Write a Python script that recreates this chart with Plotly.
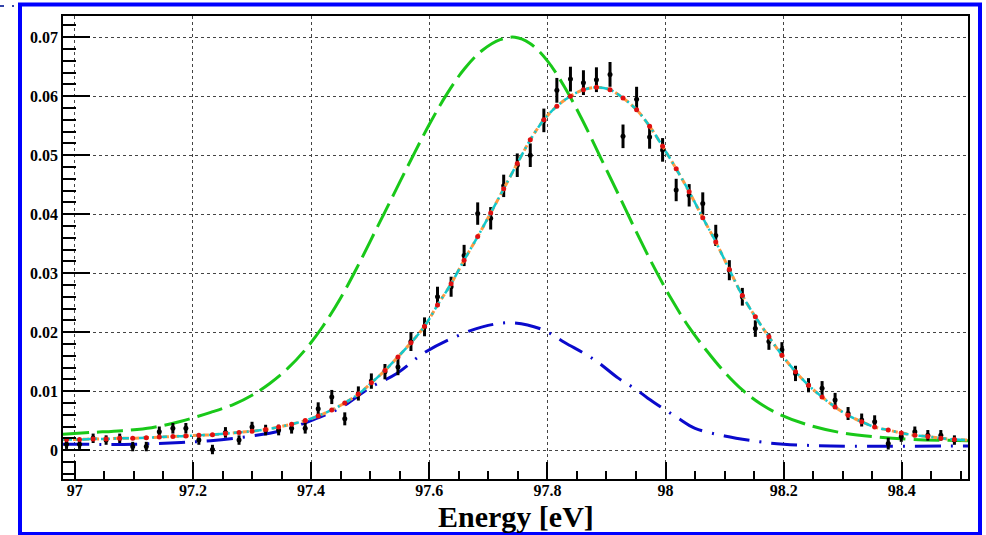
import plotly.graph_objects as go

# Binned spectrum: bin centres [eV], normalised counts and their errors
energy = [
    96.986, 97.008, 97.031, 97.053, 97.076, 97.098, 97.121, 97.143, 97.166, 97.188,
    97.210, 97.233, 97.255, 97.278, 97.300, 97.323, 97.345, 97.367, 97.390, 97.412,
    97.435, 97.457, 97.480, 97.502, 97.525, 97.547, 97.569, 97.592, 97.614, 97.637,
    97.659, 97.682, 97.704, 97.726, 97.749, 97.771, 97.794, 97.816, 97.839, 97.861,
    97.883, 97.906, 97.928, 97.951, 97.973, 97.995, 98.018, 98.040, 98.063, 98.085,
    98.108, 98.130, 98.152, 98.175, 98.197, 98.220, 98.242, 98.265, 98.287, 98.309,
    98.332, 98.354, 98.377, 98.399, 98.422, 98.444, 98.466, 98.489,
]
counts = [
    0.0010, 0.0010, 0.0020, 0.0017, 0.0020, 0.0006, 0.0006, 0.0031, 0.0037, 0.0037,
    0.0017, 0.0001, 0.0030, 0.0017, 0.0039, 0.0034, 0.0034, 0.0037, 0.0037, 0.0070,
    0.0090, 0.0053, 0.0096, 0.0117, 0.0133, 0.0141, 0.0184, 0.0209, 0.0260, 0.0277,
    0.0330, 0.0401, 0.0393, 0.0448, 0.0483, 0.0500, 0.0559, 0.0610, 0.0629, 0.0623,
    0.0628, 0.0637, 0.0532, 0.0595, 0.0531, 0.0509, 0.0441, 0.0432, 0.0418, 0.0364,
    0.0305, 0.0260, 0.0206, 0.0184, 0.0170, 0.0130, 0.0110, 0.0105, 0.0085, 0.0062,
    0.0051, 0.0048, 0.0011, 0.0023, 0.0031, 0.0025, 0.0025, 0.0017,
]
errors = [
    0.0008, 0.0008, 0.0008, 0.0008, 0.0008, 0.0008, 0.0008, 0.0009, 0.0009, 0.0009,
    0.0008, 0.0008, 0.0009, 0.0008, 0.0009, 0.0009, 0.0009, 0.0009, 0.0009, 0.0011,
    0.0012, 0.0011, 0.0012, 0.0013, 0.0013, 0.0014, 0.0016, 0.0016, 0.0017, 0.0017,
    0.0018, 0.0019, 0.0019, 0.0019, 0.0020, 0.0020, 0.0020, 0.0021, 0.0021, 0.0021,
    0.0021, 0.0021, 0.0020, 0.0021, 0.0020, 0.0020, 0.0019, 0.0019, 0.0019, 0.0018,
    0.0017, 0.0015, 0.0014, 0.0014, 0.0013, 0.0013, 0.0012, 0.0012, 0.0012, 0.0011,
    0.0011, 0.0011, 0.0010, 0.0009, 0.0009, 0.0009, 0.0009, 0.0008,
]

# Total fit evaluated at the bin centres, plus its values at the range ends
fit_total = [
    0.0018, 0.0018, 0.0019, 0.0019, 0.0020, 0.0020, 0.0021, 0.0022, 0.0023, 0.0024,
    0.0025, 0.0026, 0.0028, 0.0030, 0.0032, 0.0035, 0.0039, 0.0044, 0.0050, 0.0058,
    0.0068, 0.0080, 0.0095, 0.0114, 0.0135, 0.0158, 0.0182, 0.0210, 0.0246, 0.0282,
    0.0322, 0.0362, 0.0402, 0.0443, 0.0486, 0.0526, 0.0560, 0.0583, 0.0600, 0.0611,
    0.0615, 0.0611, 0.0597, 0.0577, 0.0549, 0.0515, 0.0477, 0.0438, 0.0394, 0.0353,
    0.0306, 0.0262, 0.0226, 0.0192, 0.0161, 0.0133, 0.0110, 0.0090, 0.0073, 0.0059,
    0.0048, 0.0039, 0.0034, 0.0029, 0.0025, 0.0023, 0.0020, 0.0018,
]
edge_energy = [96.98, 98.512]
edge_fit = [0.0018, 0.0017]

# Shifted component (green)
comp_a_energy = [
    96.98, 97.03, 97.08, 97.13, 97.18, 97.23, 97.27, 97.30, 97.33, 97.36,
    97.39, 97.42, 97.45, 97.48, 97.51, 97.54, 97.57, 97.60, 97.63, 97.66,
    97.69, 97.72, 97.745, 97.77, 97.80, 97.83, 97.86, 97.89, 97.92, 97.95,
    97.98, 98.01, 98.04, 98.07, 98.10, 98.13, 98.16, 98.19, 98.24, 98.30,
    98.36, 98.42, 98.512,
]
comp_a = [
    0.0027, 0.0030, 0.0033, 0.0038, 0.0049, 0.0064, 0.0078, 0.0093, 0.0113, 0.0138,
    0.0170, 0.0210, 0.0258, 0.0314, 0.0374, 0.0434, 0.0494, 0.0552, 0.0604, 0.0647,
    0.0678, 0.0696, 0.0700, 0.0690, 0.0660, 0.0614, 0.0558, 0.0496, 0.0434, 0.0371,
    0.0311, 0.0256, 0.0208, 0.0168, 0.0132, 0.0102, 0.0079, 0.0062, 0.0043, 0.0029,
    0.0022, 0.0018, 0.0016,
]

# Second component (blue)
comp_b_energy = [
    96.98, 97.10, 97.18, 97.23, 97.30, 97.35, 97.40, 97.45, 97.50, 97.545,
    97.59, 97.635, 97.69, 97.74, 97.79, 97.83, 97.88, 97.92, 97.95, 97.97,
    98.02, 98.05, 98.10, 98.16, 98.20, 98.28, 98.512,
]
comp_b = [
    0.0010, 0.0010, 0.0013, 0.0016, 0.0024, 0.0033, 0.0050, 0.0072, 0.0106, 0.0130,
    0.0164, 0.0188, 0.0209, 0.0216, 0.0205, 0.0182, 0.0153, 0.0122, 0.0103, 0.0088,
    0.0055, 0.0037, 0.0024, 0.0014, 0.0010, 0.0007, 0.0007,
]

curve_energy = [edge_energy[0]] + energy + [edge_energy[1]]
curve_fit = [edge_fit[0]] + fit_total + [edge_fit[1]]

SERIF = "Liberation Serif, Times New Roman, Times, serif"

fig = go.Figure()

fig.add_trace(go.Scatter(
    x=comp_a_energy, y=comp_a, mode="lines", line_shape="spline",
    line=dict(color="#19c819", width=3, dash="26px,8px"), hoverinfo="skip",
))
fig.add_trace(go.Scatter(
    x=comp_b_energy, y=comp_b, mode="lines", line_shape="spline",
    line=dict(color="#0a0acc", width=3, dash="26px,10px,2px,10px"), hoverinfo="skip",
))
fig.add_trace(go.Scatter(
    x=energy, y=counts, mode="markers",
    marker=dict(color="black", size=5, symbol="circle"),
    error_y=dict(type="data", array=errors, color="black", thickness=3, width=0),
))
fig.add_trace(go.Scatter(
    x=curve_energy, y=curve_fit, mode="lines", line_shape="spline",
    line=dict(color="#ff9940", width=3, dash="6px,4px"), hoverinfo="skip",
))
fig.add_trace(go.Scatter(
    x=curve_energy, y=curve_fit, mode="lines", line_shape="spline",
    line=dict(color="#12c8cc", width=2.5, dash="9px,4px,2px,4px"), hoverinfo="skip",
))
fig.add_trace(go.Scatter(
    x=energy, y=fit_total, mode="markers",
    marker=dict(color="#e01010", size=5, symbol="circle"), hoverinfo="skip",
))

tick_font = dict(family=SERIF, size=16, color="black", weight="bold")

fig.update_xaxes(
    range=[96.98, 98.512], tick0=97, dtick=0.2,
    ticks="inside", ticklen=17, tickwidth=1.5, tickcolor="black",
    minor=dict(dtick=0.05, tick0=97, ticks="inside", ticklen=8, tickwidth=1.5,
               tickcolor="black", showgrid=False),
    showgrid=True, gridcolor="#444444", griddash="dot", gridwidth=1,
    showline=True, linecolor="black", linewidth=1.5, mirror=True,
    zeroline=False, tickfont=tick_font, ticklabelstandoff=-4,
)
fig.update_yaxes(
    range=[-0.0049, 0.0736], tick0=0, dtick=0.01,
    ticks="inside", ticklen=27, tickwidth=1.5, tickcolor="black",
    minor=dict(dtick=0.002, tick0=0, ticks="inside", ticklen=13, tickwidth=1.5,
               tickcolor="black", showgrid=False),
    showgrid=True, gridcolor="#444444", griddash="dot", gridwidth=1,
    showline=True, linecolor="black", linewidth=1.5, mirror=True,
    zeroline=False, tickfont=tick_font,
)

# Plot area spans x 63..968 px and y 16..479 px of the 986x535 canvas
L, R, T, B = 63, 968, 16, 479
def px(x):
    return (x - L) / (R - L)
def py(y):
    return (B - y) / (B - T)

shapes = [
    # canvas frame
    dict(type="rect", xref="paper", yref="paper",
         x0=px(20), x1=px(980), y0=py(534), y1=py(4.5),
         line=dict(color="#0000ff", width=4)),
    dict(type="line", xref="paper", yref="paper",
         x0=px(0), x1=px(4), y0=py(6), y1=py(6), line=dict(color="#3344aa", width=2)),
    dict(type="line", xref="paper", yref="paper",
         x0=px(12), x1=px(14), y0=py(6), y1=py(6), line=dict(color="#3344aa", width=2)),
]

fig.update_layout(
    width=986, height=535,
    margin=dict(l=L, r=986 - R, t=T, b=535 - B),
    paper_bgcolor="white", plot_bgcolor="white",
    font=dict(family=SERIF, color="black"),
    showlegend=False,
    shapes=shapes,
    annotations=[dict(
        text="Energy [eV]", xref="paper", yref="paper",
        x=0.5, y=py(516), xanchor="center", yanchor="middle", showarrow=False,
        font=dict(family=SERIF, size=30, color="black", weight="bold"),
    )],
)

fig.write_html("out.html")
